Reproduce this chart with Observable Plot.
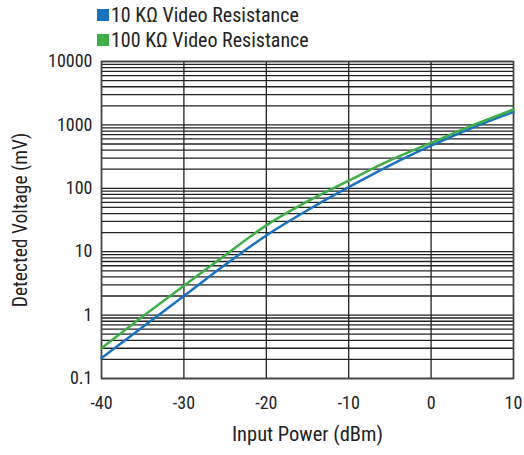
<!DOCTYPE html>
<html>
<head>
<meta charset="utf-8">
<script src="https://cdn.jsdelivr.net/npm/d3@7"></script>
<script src="https://cdn.jsdelivr.net/npm/@observablehq/plot@0.6"></script>
<style>
  body { margin: 0; background: #fff; font-family: "Roboto Condensed", "Roboto", sans-serif; }
  #legend { height: 44px; position: relative; color: #222; font-size: 20px; }
  .item { position: absolute; left: 97px; display: flex; align-items: center; line-height: 20px; }
  .sw { width: 12px; height: 12px; margin-right: 2px; }
</style>
</head>
<body>
<div id="legend"></div>
<div id="chart"></div>
<script>
const inputPower = [-40, -35, -30, -25, -20, -15, -10, -5, 0, 5, 10];
const volt10k   = [0.21, 0.65, 2.0, 6.2, 18, 45, 104, 230, 470, 900, 1600];
const volt100k  = [0.30, 0.95, 2.9, 8.8, 26, 62, 132, 275, 520, 980, 1750];
const seriesNames = ["10 KΩ Video Resistance", "100 KΩ Video Resistance"];
const seriesColors = ["#1a72bd", "#3fae49"];
const xTicks = [-40, -30, -20, -10, 0, 10];
const yTicks = [0.1, 1, 10, 100, 1000, 10000];

const legend = document.getElementById("legend");
seriesNames.forEach((n, i) => {
  const d = document.createElement("div");
  d.className = "item";
  d.style.top = (i === 0 ? 5 : 30) + "px";
  d.innerHTML = `<span class="sw" style="background:${seriesColors[i]}"></span><span>${n}</span>`;
  legend.appendChild(d);
});

const data = [];
inputPower.forEach((x, i) => {
  data.push({x, y: volt10k[i], s: seriesNames[0]});
  data.push({x, y: volt100k[i], s: seriesNames[1]});
});

const minor = [];
for (let e = -1; e < 4; e++) for (let k = 1; k <= 9; k++) minor.push(k * Math.pow(10, e));
minor.push(10000);

const chart = Plot.plot({
  width: 524,
  height: 411,
  marginLeft: 101,
  marginRight: 11,
  marginTop: 17,
  marginBottom: 77,
  style: { fontFamily: '"Roboto Condensed", "Roboto", sans-serif', fontSize: "18px", color: "#222", overflow: "visible" },
  x: { domain: [-40, 10], ticks: xTicks, label: null },
  y: { type: "log", domain: [0.1, 10000], ticks: yTicks, label: null },
  color: { domain: seriesNames, range: seriesColors },
  marks: [
    Plot.ruleY(minor, { stroke: "#222", strokeWidth: 1.3 }),
    Plot.ruleX(xTicks, { stroke: "#222", strokeWidth: 1.3 }),
    Plot.frame({ stroke: "#444", strokeWidth: 1.5 }),
    Plot.line(data, { x: "x", y: "y", stroke: "s", strokeWidth: 2.5, curve: "monotone-x" }),
    Plot.axisX({ ticks: xTicks, tickSize: 0, tickPadding: 18, fontSize: 18, tickFormat: d => String(d), label: null }),
    Plot.text(["Input Power (dBm)"], { frameAnchor: "bottom", dy: 62, fontSize: 20.5, fill: "#222" }),
    Plot.axisY({ ticks: yTicks, tickSize: 0, tickPadding: 9, fontSize: 18, tickFormat: d => String(d), label: null }),
    Plot.text(["Detected Voltage (mV)"], { frameAnchor: "left", textAnchor: "middle", dx: -81, rotate: -90, fontSize: 19.5, fill: "#222" })
  ]
});
document.getElementById("chart").appendChild(chart);
</script>
</body>
</html>
